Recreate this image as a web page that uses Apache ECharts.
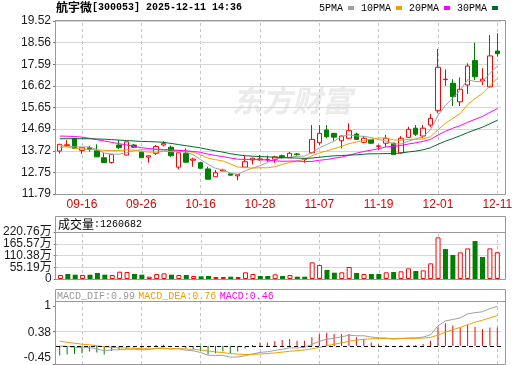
<!DOCTYPE html>
<html><head><meta charset="utf-8">
<script src="https://cdn.jsdelivr.net/npm/echarts@6/dist/echarts.min.js"></script>
<style>html,body{margin:0;padding:0;background:#fff}#c{width:520px;height:365px}</style>
</head><body><div id="c"></div>
<script>
const dates = ['09-11','09-12','09-15','09-16','09-17','09-18','09-19','09-22','09-23','09-24','09-25','09-26','09-29','09-30','10-09','10-10','10-13','10-14','10-15','10-16','10-17','10-20','10-21','10-22','10-23','10-24','10-27','10-28','10-29','10-30','10-31','11-03','11-04','11-05','11-06','11-07','11-10','11-11','11-12','11-13','11-14','11-17','11-18','11-19','11-20','11-21','11-24','11-25','11-26','11-27','11-28','12-01','12-02','12-03','12-04','12-05','12-08','12-09','12-10','12-11'];
const dateLabels = ['09-16','09-26','10-16','10-28','11-07','11-19','12-01','12-11'];
const opens  = [13.71,13.95,14.28,13.74,13.86,13.72,13.41,13.20,13.98,13.53,13.98,13.66,13.44,13.61,13.98,13.88,12.99,13.61,13.30,13.19,12.91,12.56,12.82,12.69,12.60,12.99,13.31,13.31,13.32,13.34,13.50,13.41,13.58,13.33,13.63,14.08,14.65,14.50,14.17,14.28,14.47,14.10,14.23,13.92,14.06,14.06,13.63,14.32,14.73,14.38,14.87,15.51,16.90,16.74,15.91,16.66,17.75,16.84,16.58,18.18];
const closes = [14.01,13.99,13.82,13.86,13.78,13.45,13.19,13.56,13.86,14.12,13.88,13.41,13.50,13.91,14.04,13.50,13.63,13.21,13.35,12.94,12.45,12.74,12.86,12.63,12.66,13.23,13.39,13.36,13.34,13.45,13.43,13.61,13.55,13.36,14.23,14.50,14.35,14.33,14.38,14.62,14.23,14.28,14.06,13.94,14.28,13.56,14.28,14.68,14.46,14.73,15.17,17.45,16.92,16.14,16.47,17.51,17.03,16.92,17.96,18.06];
const lows   = [13.60,13.94,13.80,13.58,13.68,13.44,13.18,13.15,13.80,13.52,13.86,13.40,13.19,13.54,13.92,13.45,12.89,13.20,13.01,12.93,12.44,12.55,12.81,12.62,12.40,12.98,13.11,13.28,13.23,13.18,13.35,13.40,13.50,13.19,13.60,13.98,14.28,14.17,13.83,14.25,14.20,14.05,14.02,13.76,13.90,13.54,13.60,14.30,14.38,14.28,14.77,15.40,16.62,15.72,15.72,16.26,16.88,16.66,16.55,17.93];
const highs  = [14.03,14.20,14.30,13.88,13.95,14.01,13.62,13.57,14.20,14.14,14.02,13.68,13.50,13.98,14.15,13.95,13.64,13.83,13.41,13.20,13.01,12.86,12.92,12.71,12.68,13.50,13.41,13.53,13.50,13.50,13.55,13.67,13.62,13.38,14.87,14.87,14.87,14.52,14.40,14.95,14.53,14.38,14.25,14.00,14.43,14.08,14.38,14.80,14.87,14.87,15.36,18.27,17.36,16.92,17.00,17.63,18.55,17.41,18.89,18.97];
// volume in 万 shares
const volumes = [18.8,23.4,20.3,18.8,20.3,28.1,20.3,18.8,34.4,32.8,23.4,20.3,10.9,23.4,26.6,20.3,18.8,18.8,14.0,12.5,14.0,9.4,9.4,10.9,9.4,31.3,23.4,14.0,14.0,21.9,14.0,18.8,10.9,10.9,78.2,65.7,42.2,29.7,31.3,56.3,28.1,23.4,23.4,23.4,31.3,32.8,36.0,50.0,37.5,40.6,73.5,195.4,140.7,112.6,125.0,143.8,178.2,103.2,143.8,126.0682];
const ma5Early  = [13.88,13.90,13.90,13.89];
const ma10Early = [13.98,13.90,13.83,13.80,13.79,13.76,13.74,13.73,13.73];
const ma20Early = [14.38,14.37,14.36,14.33,14.28,14.22,14.16,14.10,14.04,13.98,13.92,13.86,13.82,13.79,13.78,13.76,13.74,13.72,13.69];
const ma30Early = [14.26,14.26,14.26,14.26,14.26,14.25,14.24,14.22,14.20,14.18,14.16,14.14,14.13,14.12,14.10,14.05,14.00,13.95,13.90,13.85,13.78,13.72,13.66,13.59,13.54,13.50,13.48,13.46,13.45];
const macdHist = [-0.24,-0.21,-0.20,-0.18,-0.14,-0.16,-0.21,-0.125,-0.10,-0.06,-0.04,-0.06,-0.04,0.025,0.03,-0.025,0,-0.06,-0.075,-0.125,-0.21,-0.18,-0.14,-0.18,-0.14,-0.06,0.025,0.08,0.09,0.125,0.15,0.175,0.13,0.13,0.22,0.30,0.33,0.30,0.30,0.30,0.22,0.175,0.09,0.04,0.025,-0.025,0.01,0.025,0.025,0.05,0.13,0.46,0.57,0.51,0.47,0.54,0.48,0.42,0.46,0.46];
const macdDea = [0.120,0.094,0.069,0.046,0.029,0.009,-0.017,-0.033,-0.045,-0.053,-0.058,-0.065,-0.070,-0.067,-0.063,-0.066,-0.066,-0.074,-0.083,-0.099,-0.125,-0.148,-0.165,-0.188,-0.205,-0.213,-0.210,-0.200,-0.189,-0.173,-0.154,-0.132,-0.116,-0.100,-0.072,-0.035,0.006,0.044,0.081,0.119,0.146,0.168,0.179,0.184,0.187,0.184,0.185,0.188,0.191,0.198,0.214,0.272,0.343,0.407,0.466,0.533,0.593,0.646,0.703,0.761];
const macdDif = [0.000,-0.011,-0.031,-0.044,-0.041,-0.071,-0.122,-0.096,-0.095,-0.083,-0.078,-0.095,-0.090,-0.055,-0.048,-0.079,-0.066,-0.104,-0.121,-0.162,-0.230,-0.238,-0.235,-0.278,-0.275,-0.243,-0.198,-0.160,-0.144,-0.111,-0.079,-0.045,-0.051,-0.035,0.038,0.115,0.171,0.194,0.231,0.269,0.256,0.256,0.224,0.204,0.200,0.172,0.190,0.200,0.204,0.223,0.279,0.502,0.628,0.662,0.701,0.803,0.833,0.856,0.933,0.991];
const priceTicks = [11.79,12.75,13.72,14.69,15.65,16.62,17.59,18.56,19.52];
const volTicks = [0,55.19,110.38,165.57,220.76];
const macdTicks = [-0.45,0.38,1];
const maNames = ['5PMA','10PMA','20PMA','30PMA'];

const RED = '#ff0000', GREEN = '#008000';
const maColors = ['#a0a0a0','#f0a000','#ff00ff','#006b2d'];

function calcMA(n, early){
  return closes.map((c,i)=>{
    if(i < n-1) return early[i];
    let s=0; for(let k=i-n+1;k<=i;k++) s+=closes[k];
    return +(s/n).toFixed(3);
  });
}
const maData = [calcMA(5,ma5Early),calcMA(10,ma10Early),calcMA(20,ma20Early),calcMA(30,ma30Early)];

const vLines = dateLabels.map(d=>({xAxis:d, lineStyle:{color:'#c4c4c4', type:[3,3], width:1}}));
const hLines = vals => vals.map(v=>({yAxis:v, lineStyle:{color:'#d6d6d6', type:'solid', width:1}}));
const gridMark = extra => ({silent:true, symbol:['none','none'], label:{show:false}, z:1, animation:false, data: vLines.concat(extra)});

const chart = echarts.init(document.getElementById('c'), null, {renderer:'canvas'});
const axisFont = {fontFamily:'Liberation Sans, "Noto Sans CJK SC"', fontSize:12, color:'#1a1a1a', showMinLabel:true, showMaxLabel:true, hideOverlap:false};
function xAx(idx, showLabel){
  return {type:'category', gridIndex:idx, data:dates, boundaryGap:true,
    axisLine:{show:false}, axisTick:{show:false}, splitLine:{show:false},
    axisLabel: showLabel ? {show:true, color:'#e00000', fontFamily:'Liberation Sans', fontSize:12, margin:5,
      interval:(i,v)=>dateLabels.indexOf(v)>=0} : {show:false}};
}
function volAxis(ticks){
  return {type:'value', gridIndex:1, position:'left', min:0, max:220.76, splitLine:{show:false}, axisLine:{show:false},
    axisTick:{show:true, length:3, lineStyle:{color:'#777'}, customValues:ticks},
    axisLabel:Object.assign({customValues:ticks, margin:5, formatter:v=>v===0?'0':v.toFixed(2)+'万'}, axisFont, {lineHeight:10})};
}
const last = dates.length-1;
const option = {
  animation:false,
  backgroundColor:'#fff',
  title:{text:'{c|航宇微}{a|[300053] 2025-12-11 14:36}', left:56, top:1, padding:0,
    textStyle:{rich:{c:{fontFamily:'"Noto Sans CJK SC"', fontSize:12, color:'#000'}, a:{fontFamily:'Liberation Mono', fontSize:10, color:'#000'}}}},
  legend:{data:maNames, left:319, top:3, width:200, padding:0, align:'right', icon:'rect', itemWidth:6, itemHeight:4, itemGap:7, selectedMode:false,
    textStyle:{fontFamily:'Liberation Mono', fontSize:10, color:'#000'}},
  grid:[
    {left:56, top:21, width:445, height:173},
    {left:56, top:232, width:445, height:47},
    {left:56, top:302, width:445, height:62}
  ],
  xAxis:[xAx(0,true), xAx(1,false), xAx(2,false)],
  yAxis:[
    {type:'value', gridIndex:0, min:11.79, max:19.52, splitLine:{show:false}, axisLine:{show:false},
      axisTick:{show:true, length:3, lineStyle:{color:'#777'}, customValues:priceTicks},
      axisLabel:Object.assign({customValues:priceTicks, margin:5, formatter:v=>v.toFixed(2)}, axisFont)},
    volAxis([volTicks[0], volTicks[2], volTicks[4]]),
    {type:'value', gridIndex:2, min:-0.45, max:1.1, splitLine:{show:false}, axisLine:{show:false},
      axisTick:{show:true, length:3, lineStyle:{color:'#777'}, customValues:macdTicks},
      axisLabel:Object.assign({customValues:macdTicks, margin:5,
        formatter:v=> v<0 ? '{lo|'+v.toFixed(2)+'}' : (v===1?'{hi|1}':'{mid|'+v.toFixed(2)+'}'),
        rich:{lo:{padding:[0,0,13,0], fontFamily:'Liberation Sans', fontSize:12, color:'#1a1a1a'},
              mid:{padding:[4,0,0,0], fontFamily:'Liberation Sans', fontSize:12, color:'#1a1a1a'},
              hi:{padding:[0,0,0,0], fontFamily:'Liberation Sans', fontSize:12, color:'#1a1a1a'}}}, axisFont)},
    volAxis([volTicks[1], volTicks[3]])
  ],
  series:[
    {type:'candlestick', name:'K', xAxisIndex:0, yAxisIndex:0, barWidth:5,
      data:dates.map((d,i)=>[opens[i],closes[i],lows[i],highs[i]]),
      itemStyle:{color:'#ffffff', color0:GREEN, borderColor:RED, borderColor0:GREEN, borderWidth:1},
      markLine:gridMark(hLines(priceTicks))},
    ...maNames.map((n,k)=>({type:'line', name:n, xAxisIndex:0, yAxisIndex:0, data:maData[k], showSymbol:false, symbol:'none',
      lineStyle:{color:maColors[k], width:1}, itemStyle:{color:maColors[k]}})),
    {type:'bar', name:'VOL', xAxisIndex:1, yAxisIndex:1, barWidth:5,
      data:volumes.map((v,i)=>{
        const up = i===0 ? closes[i]>=opens[i] : closes[i]>=closes[i-1];
        return {value:v, itemStyle: up ? {color:'#ffffff', borderColor:RED, borderWidth:1} : {color:GREEN}};
      }),
      markLine:gridMark(hLines(volTicks.slice(1,4)))},
    {type:'bar', name:'MACD', xAxisIndex:2, yAxisIndex:2, barWidth:1,
      data:macdHist.map(v=>({value:v, itemStyle:{color: v>=0?RED:GREEN}})),
      markLine:gridMark(hLines([0.38]))},
    {type:'line', name:'DIF', xAxisIndex:2, yAxisIndex:2, data:macdDif, showSymbol:false, symbol:'none', lineStyle:{color:'#a0a0a0', width:1},
      markLine:{silent:true, symbol:['none','none'], label:{show:false}, animation:false, z:5,
        data:[{yAxis:0, lineStyle:{color:'#000', type:[4,3], width:1}}]}},
    {type:'line', name:'DEA', xAxisIndex:2, yAxisIndex:2, data:macdDea, showSymbol:false, symbol:'none', lineStyle:{color:'#f0a000', width:1}}
  ],
  graphic:[
    {type:'text', x:232, y:86, z:0, silent:true, style:{text:'东方财富', font:'italic bold 30px "Noto Sans CJK SC"', fill:'#ebebeb'}},
    {type:'rect', z:10, silent:true, shape:{x:55.5, y:20.5, width:450, height:174}, style:{fill:'none', stroke:'#999', lineWidth:1}},
    {type:'rect', z:10, silent:true, shape:{x:55.5, y:216.5, width:450, height:63}, style:{fill:'none', stroke:'#999', lineWidth:1}},
    {type:'line', z:10, silent:true, shape:{x1:55.5, y1:232.5, x2:505.5, y2:232.5}, style:{stroke:'#999', lineWidth:1}},
    {type:'rect', z:10, silent:true, shape:{x:55.5, y:289.5, width:450, height:75}, style:{fill:'none', stroke:'#999', lineWidth:1}},
    {type:'line', z:10, silent:true, shape:{x1:55.5, y1:301.5, x2:505.5, y2:301.5}, style:{stroke:'#999', lineWidth:1}},
    {type:'text', x:58, y:218, z:10, silent:true, style:{text:'{c|成交量}{a|:'+Math.round(volumes[last]*10000)+'}',
      rich:{c:{font:'12px "Noto Sans CJK SC"', fill:'#000'}, a:{font:'10px "Liberation Mono"', fill:'#000'}}}},
    {type:'text', x:57, y:290, z:10, silent:true, style:{text:'{g|MACD_DIF:'+macdDif[last].toFixed(2)+'} {o|MACD_DEA:'+macdDea[last].toFixed(2)+'} {m|MACD:'+macdHist[last].toFixed(2)+'}',
      rich:{g:{font:'10px "Liberation Mono"', fill:'#999'}, o:{font:'10px "Liberation Mono"', fill:'#f0a000'}, m:{font:'10px "Liberation Mono"', fill:'#ff00ff'}}}}
  ]
};
chart.setOption(option);
</script>
</body></html>
